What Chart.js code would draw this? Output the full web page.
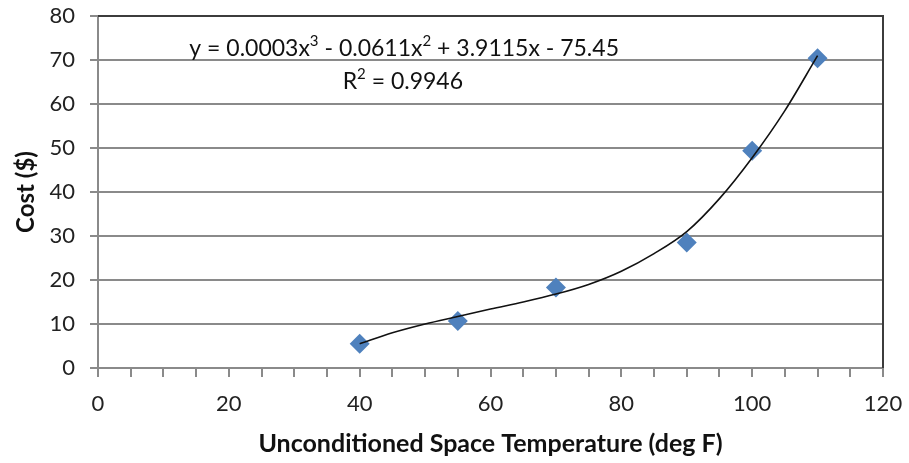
<!DOCTYPE html>
<html>
<head>
<meta charset="utf-8">
<script src="https://cdn.jsdelivr.net/npm/chart.js@4.4.0/dist/chart.umd.min.js"></script>
<style>
  html, body { margin: 0; padding: 0; background: #fff; }
</style>
</head>
<body>
<canvas id="mycanvas" width="909" height="463"></canvas>
<script>
// measured points
var temps = [40, 55, 70, 90, 100, 110];
var costs = [5.5, 10.7, 18.3, 28.5, 49.4, 70.4];

// trendline
var fitTemps = [40, 45, 50, 55, 60, 65, 70, 75, 80, 85, 90, 95, 100, 105, 110];
var fitCosts = [5.5, 8, 10, 11.7, 13.4, 15, 16.8, 19, 22, 26, 31, 38.5, 47.8, 58.5, 71];

var xTickLabels = [0, 20, 40, 60, 80, 100, 120];
var yTickLabels = [0, 10, 20, 30, 40, 50, 60, 70, 80];

// label pieces: [text, isSuperscript]
var equationParts = [["y = 0.0003x", false], ["3", true], [" - 0.0611x", false], ["2", true], [" + 3.9115x - 75.45", false]];
var rSquaredParts = [["R", false], ["2", true], [" = 0.9946", false]];

var fontName = "Lato, 'Liberation Sans', sans-serif";
var gridGray = "#8a8a8a";

var points = [];
for (var i in temps) {
  points.push({x: temps[i], y: costs[i]});
}
var fitLine = [];
for (var j in fitTemps) {
  fitLine.push({x: fitTemps[j], y: fitCosts[j]});
}

function drawParts(ctx, parts, cx, cy) {
  var big = "23px " + fontName, small = "15px " + fontName;
  var total = 0;
  parts.forEach(function(p) {
    ctx.font = p[1] ? small : big;
    total += ctx.measureText(p[0]).width;
  });
  var x = cx - total / 2;
  ctx.textAlign = "left";
  ctx.textBaseline = "alphabetic";
  parts.forEach(function(p) {
    ctx.font = p[1] ? small : big;
    ctx.fillText(p[0], x, p[1] ? cy - 2 : cy + 8);
    x += ctx.measureText(p[0]).width;
  });
}

// equation label and dark top/right frame
var extras = {
  id: 'extras',
  afterDatasetsDraw: function(chart) {
    var ctx = chart.ctx;
    var xs = chart.scales.x, ys = chart.scales.y;
    var area = chart.chartArea;
    ctx.save();
    ctx.strokeStyle = "#3c3c3c";
    ctx.lineWidth = 2;
    ctx.beginPath();
    ctx.moveTo(area.left, area.top);
    ctx.lineTo(area.right, area.top);
    ctx.lineTo(area.right, area.bottom);
    ctx.stroke();

    ctx.fillStyle = "#111";
    drawParts(ctx, equationParts, xs.getPixelForValue(46.8), ys.getPixelForValue(72.8));
    drawParts(ctx, rSquaredParts, xs.getPixelForValue(46.6), ys.getPixelForValue(65.2));
    ctx.restore();
  }
};

var ctx = document.getElementById("mycanvas");

var chart = new Chart(ctx, {
  type: 'scatter',
  data: {
    datasets: [
      {
        label: "Poly. fit",
        data: fitLine,
        showLine: true,
        fill: false,
        borderColor: "#111",
        borderWidth: 1.6,
        tension: 0.4,
        cubicInterpolationMode: 'monotone',
        pointRadius: 0
      },
      {
        label: "Cost",
        data: points,
        pointStyle: 'rectRot',
        pointRadius: 10,
        backgroundColor: "#4f81bd",
        borderColor: "#4f81bd",
        borderWidth: 0
      }
    ]
  },
  options: {
    responsive: false,
    animation: false,
    layout: { autoPadding: false, padding: { top: 16, right: 26, left: 0, bottom: 0 } },
    plugins: {
      legend: { display: false },
      tooltip: { enabled: false }
    },
    scales: {
      x: {
        type: 'linear',
        min: 0,
        max: 120,
        afterFit: function(scale) {
          scale.height = 95;
          scale.paddingLeft = 0;
          scale.paddingRight = 0;
        },
        afterBuildTicks: function(scale) {
          var t = [];
          for (var v = 0; v <= 120; v += 5) t.push({value: v});
          scale.ticks = t;
        },
        ticks: {
          autoSkip: false,
          maxRotation: 0,
          color: "#222",
          font: { family: fontName, size: 22 },
          padding: 14,
          callback: function(v) { return xTickLabels.indexOf(v) >= 0 ? String(v) : ''; }
        },
        grid: {
          drawOnChartArea: false,
          drawTicks: true,
          tickLength: 9,
          color: gridGray,
          lineWidth: 2
        },
        border: { color: gridGray, width: 2 },
        title: {
          display: true,
          text: "Unconditioned Space Temperature (deg F)",
          color: "#111",
          font: { family: fontName, size: 25, weight: 'bold' },
          padding: { top: 4, bottom: 4 }
        }
      },
      y: {
        min: 0,
        max: 80,
        afterFit: function(scale) {
          scale.width = 98;
          scale.paddingTop = 0;
          scale.paddingBottom = 0;
        },
        ticks: {
          stepSize: 10,
          color: "#222",
          font: { family: fontName, size: 22 },
          padding: 15,
          callback: function(v) { return yTickLabels.indexOf(v) >= 0 ? String(v) : ''; }
        },
        grid: {
          color: gridGray,
          lineWidth: 2,
          tickLength: 8
        },
        border: { color: gridGray, width: 2 },
        title: {
          display: true,
          text: "Cost ($)",
          color: "#111",
          font: { family: fontName, size: 24, weight: 'bold' },
          padding: { top: 12, bottom: 0 }
        }
      }
    }
  },
  plugins: [extras]
});
</script>
</body>
</html>
